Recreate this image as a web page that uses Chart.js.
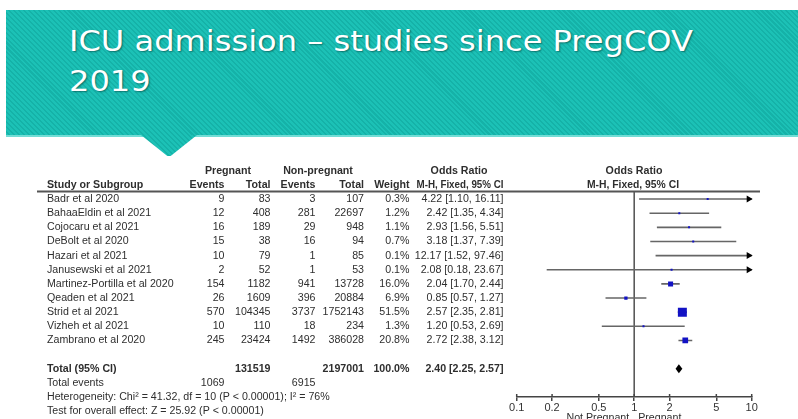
<!DOCTYPE html>
<html>
<head>
<meta charset="utf-8">
<script src="https://cdn.jsdelivr.net/npm/chart.js@4.4.1/dist/chart.umd.min.js"></script>
<style>
  html, body { margin:0; padding:0; background:#fff; width:798px; height:419px; overflow:hidden; }
  #banner { position:absolute; left:6px; top:10px; width:792px; height:125px;
    background: repeating-linear-gradient(45deg, #1cc1b6 0px, #1cc1b6 2px, #15b2a8 2px, #15b2a8 3.5px);
    border-bottom:2px solid #72ddd5; }
  #notch { position:absolute; left:141px; top:135px; width:56px; height:21px;
    background: repeating-linear-gradient(45deg, #1cc1b6 0px, #1cc1b6 2px, #15b2a8 2px, #15b2a8 3.5px);
    clip-path: polygon(0 0, 100% 0, 53% 100%, 47% 100%); }
  #title { position:absolute; left:69px; top:22px; color:#fff; font-family:"DejaVu Sans", sans-serif;
    font-size:28px; line-height:40px; white-space:nowrap; transform-origin:0 0;
    text-shadow: 1px 1px 1.5px rgba(0,60,55,0.55); }
  #title span { display:inline-block; }
  #c { position:absolute; left:0; top:0; }
</style>
</head>
<body>
<div id="banner"></div>
<div id="notch"></div>
<div id="title"><span id="t1">ICU admission – studies since PregCOV</span><br><span>2019</span></div>
<canvas id="c" width="798" height="419"></canvas>
<script>
// ---------- data ----------
const studies = ["Badr et al 2020","BahaaEldin et al 2021","Cojocaru et al 2021","DeBolt et al 2020",
  "Hazari et al 2021","Janusewski et al 2021","Martinez-Portilla et al 2020","Qeaden et al 2021",
  "Strid et al 2021","Vizheh et al 2021","Zambrano et al 2020"];
const pregEvents = [9,12,16,15,10,2,154,26,570,10,245];
const pregTotal  = [83,408,189,38,79,52,1182,1609,104345,110,23424];
const nonEvents  = [3,281,29,16,1,1,941,396,3737,18,1492];
const nonTotal   = [107,22697,948,94,85,53,13728,20884,1752143,234,386028];
const weights    = [0.3,1.2,1.1,0.7,0.1,0.1,16.0,6.9,51.5,1.3,20.8];
const orValues   = [4.22,2.42,2.93,3.18,12.17,2.08,2.04,0.85,2.57,1.20,2.72];
const ciLow      = [1.10,1.35,1.56,1.37,1.52,0.18,1.70,0.57,2.35,0.53,2.38];
const ciHigh     = [16.11,4.34,5.51,7.39,97.46,23.67,2.44,1.27,2.81,2.69,3.12];
const totalOR    = [2.40, 2.25, 2.57];          // estimate, low, high
const totalCounts = [131519, 2197001];           // pregnant total, non-pregnant total
const totalEvents = [1069, 6915];
const totalWeight = "100.0%";
const heterogeneity = "Heterogeneity: Chi² = 41.32, df = 10 (P < 0.00001); I² = 76%";
const overallTest = "Test for overall effect: Z = 25.92 (P < 0.00001)";
const xTicks = [0.1, 0.2, 0.5, 1, 2, 5, 10];
const favourLeft = "Not Pregnant", favourRight = "Pregnant";

// ---------- title fit ----------
(function(){
  const t = document.getElementById('title');
  const w = document.getElementById('t1').getBoundingClientRect().width;
  t.style.transform = 'scaleX(' + (624 / w) + ')';
})();

// ---------- chart ----------
const FONT = '"Liberation Sans", Arial, sans-serif';
const FS = 10.65;
const TXT = '#2e2e2e';
const COL = { name:47, pe:224.5, pt:270.5, ne:315.5, nt:364, w:409.5, or:503.5 };

const forestPlugin = {
  id: 'forest',
  beforeDatasetsDraw(chart) {
    const {ctx, chartArea:a, scales:{x}} = chart;
    ctx.save();
    ctx.strokeStyle = '#555'; ctx.lineWidth = 1.8;
    ctx.beginPath(); ctx.moveTo(37, a.top - 0.5); ctx.lineTo(760, a.top - 0.5); ctx.stroke();
    const x1 = x.getPixelForValue(1);
    ctx.strokeStyle = '#5a5a5a'; ctx.lineWidth = 1.6;
    ctx.beginPath(); ctx.moveTo(x1, a.top); ctx.lineTo(x1, a.bottom); ctx.stroke();
    ctx.restore();
  },
  afterDatasetsDraw(chart) {
    const {ctx, chartArea:a, scales:{x, y}} = chart;
    ctx.save();
    ctx.fillStyle = '#000';
    ciHigh.forEach((h, i) => {
      if (h > xTicks[xTicks.length-1]) {
        const py = y.getPixelForValue(i), tip = a.right + 1;
        ctx.beginPath(); ctx.moveTo(tip, py); ctx.lineTo(tip - 6, py - 3.5); ctx.lineTo(tip - 6, py + 3.5); ctx.closePath(); ctx.fill();
      }
    });
    ciLow.forEach((l, i) => {
      if (l < xTicks[0]) {
        const py = y.getPixelForValue(i), tip = a.left - 1;
        ctx.beginPath(); ctx.moveTo(tip, py); ctx.lineTo(tip + 6, py - 3.5); ctx.lineTo(tip + 6, py + 3.5); ctx.closePath(); ctx.fill();
      }
    });
    const dy = y.getPixelForValue(12);
    ctx.beginPath();
    ctx.moveTo(x.getPixelForValue(totalOR[1]), dy);
    ctx.lineTo(x.getPixelForValue(totalOR[0]), dy - 4.5);
    ctx.lineTo(x.getPixelForValue(totalOR[2]), dy);
    ctx.lineTo(x.getPixelForValue(totalOR[0]), dy + 4.5);
    ctx.closePath(); ctx.fill();
    ctx.strokeStyle = '#444'; ctx.lineWidth = 1.5;
    xTicks.forEach(v => {
      const px = x.getPixelForValue(v);
      ctx.beginPath(); ctx.moveTo(px, a.bottom); ctx.lineTo(px, a.bottom - 3); ctx.stroke();
    });
    ctx.restore();
  },
  afterDraw(chart) {
    const {ctx, chartArea:a, scales:{x, y}} = chart;
    ctx.save();
    ctx.textBaseline = 'middle';
    ctx.fillStyle = TXT;
    const txt = (s, px, row, align, bold, maxW) => {
      ctx.font = (bold ? 'bold ' : '') + FS + 'px ' + FONT;
      ctx.textAlign = align;
      if (maxW) ctx.fillText(s, px, y.getPixelForValue(row), maxW);
      else ctx.fillText(s, px, y.getPixelForValue(row));
    };
    txt('Pregnant', 228, -2, 'center', true);
    txt('Non-pregnant', 318, -2, 'center', true);
    txt('Odds Ratio', 459, -2, 'center', true);
    txt('Odds Ratio', 634, -2, 'center', true);
    txt('Study or Subgroup', COL.name, -1, 'left', true);
    txt('Events', COL.pe, -1, 'right', true);
    txt('Total', COL.pt, -1, 'right', true);
    txt('Events', COL.ne, -1, 'right', true);
    txt('Total', COL.nt, -1, 'right', true);
    txt('Weight', COL.w, -1, 'right', true);
    txt('M-H, Fixed, 95% CI', COL.or, -1, 'right', true, 87);
    txt('M-H, Fixed, 95% CI', 633, -1, 'center', true, 92);
    studies.forEach((s, i) => {
      txt(s, COL.name, i, 'left');
      txt(String(pregEvents[i]), COL.pe, i, 'right');
      txt(String(pregTotal[i]), COL.pt, i, 'right');
      txt(String(nonEvents[i]), COL.ne, i, 'right');
      txt(String(nonTotal[i]), COL.nt, i, 'right');
      txt(weights[i].toFixed(1) + '%', COL.w, i, 'right');
      txt(orValues[i].toFixed(2) + ' [' + ciLow[i].toFixed(2) + ', ' + ciHigh[i].toFixed(2) + ']', COL.or, i, 'right');
    });
    txt('Total (95% CI)', COL.name, 12, 'left', true);
    txt(String(totalCounts[0]), COL.pt, 12, 'right', true);
    txt(String(totalCounts[1]), COL.nt, 12, 'right', true);
    txt(totalWeight, COL.w, 12, 'right', true);
    txt(totalOR[0].toFixed(2) + ' [' + totalOR[1].toFixed(2) + ', ' + totalOR[2].toFixed(2) + ']', COL.or, 12, 'right', true, 84);
    txt('Total events', COL.name, 13, 'left');
    txt(String(totalEvents[0]), COL.pe, 13, 'right');
    txt(String(totalEvents[1]), COL.ne, 13, 'right');
    txt(heterogeneity, COL.name, 14, 'left');
    txt(overallTest, COL.name, 15, 'left');
    ctx.font = FS + 'px ' + FONT;
    ctx.textBaseline = 'top';
    const x1 = x.getPixelForValue(1);
    ctx.textAlign = 'right'; ctx.fillText(favourLeft, x1 - 5, a.bottom + 16);
    ctx.textAlign = 'left'; ctx.fillText(favourRight, x1 + 4, a.bottom + 16);
    ctx.restore();
  }
};

const datasets = [{
  type: 'scatter',
  label: 'Odds ratio',
  data: orValues.map((v, i) => ({x: v, y: i})),
  pointStyle: 'rect',
  pointRadius: weights.map(w => Math.max(2, 1.25 * Math.sqrt(w)) / Math.SQRT2),
  backgroundColor: '#1212c4',
  borderWidth: 0,
  order: 0
}];
studies.forEach((s, i) => {
  datasets.push({
    type: 'line',
    label: s,
    data: [{x: ciLow[i], y: i}, {x: ciHigh[i], y: i}],
    borderColor: '#666',
    borderWidth: 1.6,
    pointRadius: 0,
    order: 1
  });
});

new Chart(document.getElementById('c'), {
  data: { datasets },
  options: {
    responsive: false,
    animation: false,
    events: [],
    layout: { padding: { left: 516.7, right: 46.3, top: 192, bottom: 0 } },
    plugins: { legend: { display: false }, tooltip: { enabled: false } },
    scales: {
      x: {
        type: 'logarithmic', min: xTicks[0], max: xTicks[xTicks.length-1],
        afterBuildTicks: s => { s.ticks = xTicks.map(v => ({ value: v })); },
        afterFit: s => { s.height = 22; },
        ticks: { callback: v => String(v), autoSkip: false, maxRotation: 0, padding: 0,
                 color: '#333', font: { family: FONT, size: 11 } },
        grid: { display: true, drawOnChartArea: false, drawTicks: true, tickLength: 4, color: '#444', lineWidth: 1.5 },
        border: { display: true, color: '#444', width: 1.5 }
      },
      y: { type: 'linear', min: -0.5, max: 14, reverse: true, display: false }
    }
  },
  plugins: [forestPlugin]
});
</script>
</body>
</html>
